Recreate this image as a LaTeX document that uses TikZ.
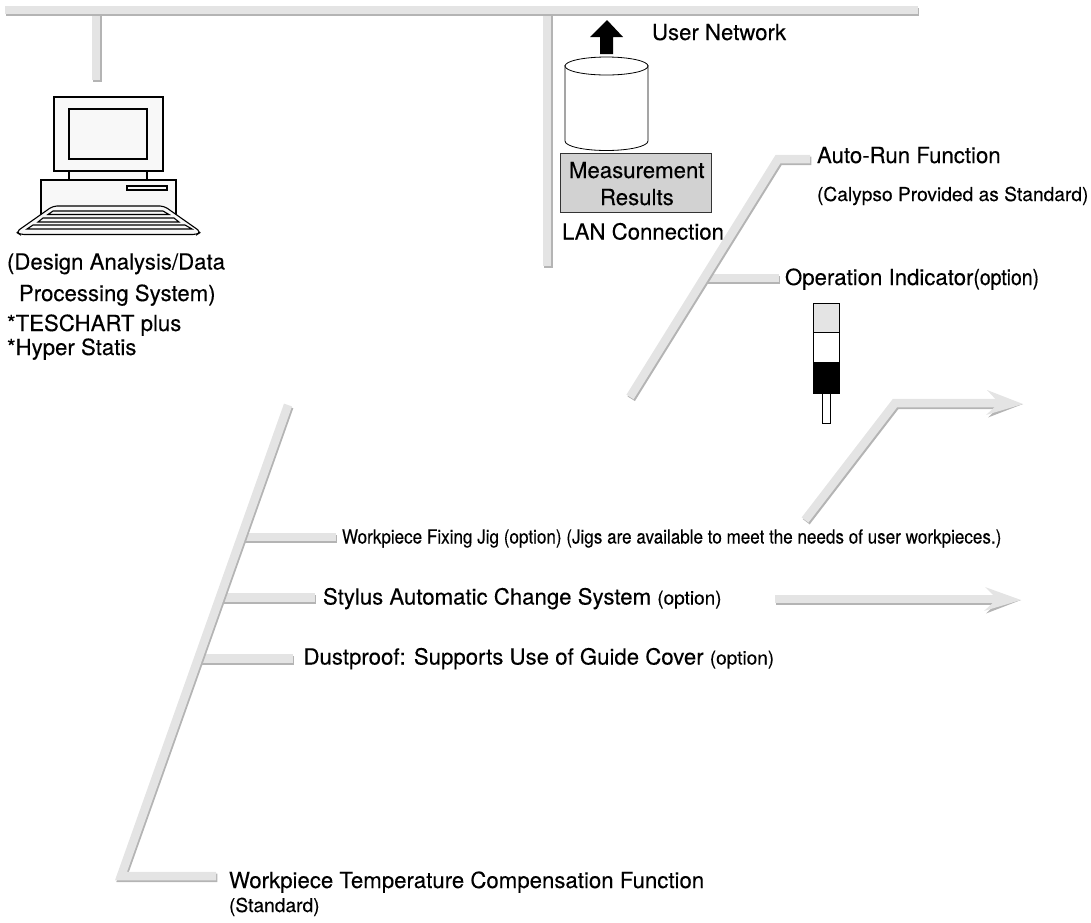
\documentclass[tikz,border=0pt]{standalone}
\usepackage{fontspec}
\setmainfont{TeX Gyre Heros}[FakeBold=0.2]
\newfontfamily\cond{TeX Gyre Heros}[FakeStretch=0.88,FakeBold=0.2]
\definecolor{pipe}{HTML}{E4E4E4}
\definecolor{pipeshade}{HTML}{B4B4B4}
\definecolor{boxgray}{HTML}{D2D2D2}
\definecolor{pcfill}{HTML}{F8F8F8}
\newcommand{\opt}{\fontsize{19}{21}\selectfont}
\tikzset{
  lab/.style={anchor=base west,inner sep=0pt,outer sep=0pt,font=\fontsize{22.2}{24}\selectfont,text=black},
  labsmall/.style={lab,font=\fontsize{19.2}{21}\selectfont},
  labcond/.style={lab,font=\cond\fontsize{19.4}{21}\selectfont},
  pipeunder/.style={draw=pipeshade,line width=8.5pt,line join=miter,transform canvas={shift={(1.3pt,-1.8pt)}}},
  pipeover/.style={draw=pipe,line width=8.5pt,line join=miter},
  tipunder/.style={fill=pipeshade,draw=none},
  tipover/.style={fill=pipe,draw=none},
  pcline/.style={draw=black,line width=1.1pt,fill=pcfill},
  cyl/.style={draw=black,line width=0.8pt,fill=white},
}
\newcommand{\pipeshape}[1]{%
  \draw[pipeunder] #1;
  \draw[pipeover] #1;}
\begin{document}
\begin{tikzpicture}[x=1pt,y=-1pt]
\useasboundingbox (0,0) rectangle (1091,922);
% network pipes
\coordinate (busL) at (5,10);
\coordinate (busR) at (918,10);
\coordinate (dropA) at (96,10);
\coordinate (dropAend) at (96,80);
\coordinate (dropB) at (547,10);
\coordinate (dropBend) at (547,266);
\pipeshape{(dropA) -- (dropAend)}
\pipeshape{(dropB) -- (dropBend)}
\pipeshape{(busL) -- (busR)}
% auto-run tree
\coordinate (arS) at (630,397);
\coordinate (arC) at (778,159);
\coordinate (arE) at (810,159);
\coordinate (opS) at (704,278);
\coordinate (opE) at (779,278);
\pipeshape{(opS) -- (opE)}
\pipeshape{(arS) -- (arC) -- (arE)}
% lower tree
\coordinate (loT) at (288,405);
\coordinate (loC) at (121,876);
\coordinate (loE) at (216,876);
\coordinate (jigS) at (240,537);
\coordinate (jigE) at (335.5,537);
\coordinate (styS) at (220,597.5);
\coordinate (styE) at (315,597.5);
\coordinate (dusS) at (198,658.5);
\coordinate (dusE) at (292.5,658.5);
\pipeshape{(jigS) -- (jigE)}
\pipeshape{(styS) -- (styE)}
\pipeshape{(dusS) -- (dusE)}
\pipeshape{(loT) -- (loC) -- (loE)}
% arrows
\coordinate (a1S) at (805,520);
\coordinate (a1C) at (895,403);
\coordinate (a1E) at (1000,403);
\coordinate (a2S) at (775,599);
\coordinate (a2E) at (1000,599);
\pipeshape{(a1S) -- (a1C) -- (a1E)}
\pipeshape{(a2S) -- (a2E)}
\fill[tipunder] (1023,404) -- (988,417.5) -- (1000,406) -- cycle;
\fill[tipover] (987,390) -- (1023,404) -- (986,415) -- (999,403) -- cycle;
\fill[tipunder] (1021,600) -- (986,613.5) -- (998,602) -- cycle;
\fill[tipover] (985,587) -- (1021,600) -- (984,611) -- (997,599) -- cycle;
% computer
\draw[pcline] (69,171) rectangle (147,181);
\draw[pcline] (54,97) rectangle (163,171);
\draw[pcline] (69,109) rectangle (147,159);
\draw[pcline] (41,180) rectangle (176,216);
\draw[pcline] (127,186) rectangle (167,190);
\draw[pcline,rounded corners=4pt] (53,206) -- (164,206) -- (201,232) -- (197,234.5) -- (20,234.5) -- (16,232) -- cycle;
\draw[pcline] (53,211) -- (163,211) -- (169,214.5) -- (48,214.5) -- cycle;
\draw[pcline] (43,218) -- (174,218) -- (179,222) -- (38,222) -- cycle;
\draw[pcline] (33,225) -- (185,225) -- (192,229) -- (27,229) -- cycle;
% database
\draw[cyl] (565,65) -- (565,141) arc[start angle=180,end angle=0,x radius=41.5,y radius=9.5] -- (648,65);
\draw[cyl] (606.5,66) ellipse[x radius=41.5,y radius=9];
\fill[black] (607,20) -- (623,37) -- (613,37) -- (613,54) -- (600,54) -- (600,37) -- (590,37) -- cycle;
\draw[draw=black!80,line width=0.8pt,fill=boxgray] (560.5,153) rectangle (711,212);
% signal tower
\draw[draw=black,line width=0.8pt,fill=pipe] (813.5,303) rectangle (839,332.5);
\draw[draw=black,line width=0.8pt,fill=white] (813.5,332.5) rectangle (839,362.5);
\draw[draw=black,line width=0.8pt,fill=black] (813.5,362.5) rectangle (839,393);
\draw[draw=black,line width=0.8pt,fill=white] (822.5,393) rectangle (830,423);
% labels
\node[lab] (tUser) at (652,40) {User Network};
\node[lab] (tMeas) at (569,178) {Measurement};
\node[lab] (tRes) at (600,205) {Results};
\node[lab] (tLan) at (562,239.5) {LAN Connection};
\node[lab] (tAuto) at (817,163) {Auto-Run Function};
\node[labsmall] (tCal) at (817,201) {(Calypso Provided as Standard)};
\node[lab] (tOp) at (785,285) {Operation Indicator{\cond\fontsize{22}{24}\selectfont(option)}};
\node[lab] (tDes) at (7,269.5) {(Design Analysis/Data};
\node[lab] (tPro) at (19,301) {Processing System)};
\node[lab] (tTes) at (7,331) {*TESCHART plus};
\node[lab] (tHyp) at (7,355) {*Hyper Statis};
\node[labcond] (tJig) at (342,543.5) {Workpiece Fixing Jig (option) (Jigs are available to meet the needs of user workpieces.)};
\node[lab] (tSty) at (323,604.5) {Stylus Automatic Change System {\opt(option)}};
\node[lab] (tDus) at (303.5,664.5) {Dustproof: Supports Use of Guide Cover {\opt(option)}};
\node[lab] (tTem) at (229,888) {Workpiece Temperature Compensation Function};
\node[labsmall] (tStd) at (229,912) {(Standard)};
\end{tikzpicture}
\end{document}
